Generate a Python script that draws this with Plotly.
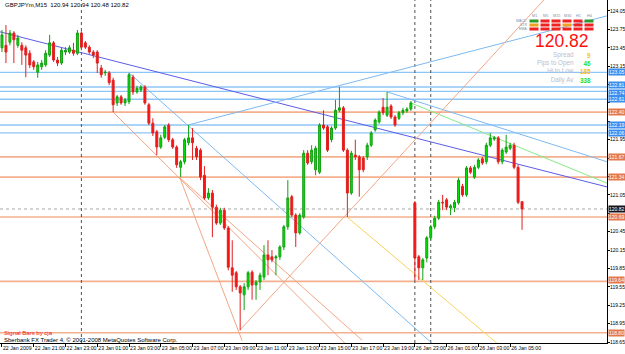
import plotly.graph_objects as go

# ---------------- data (GBPJPYm, M15) ----------------
opens = [123.45,123.49,123.54,123.69,123.49,123.49,123.45,123.36,123.22,123.05,
         123.14,123.17,123.33,123.53,123.25,123.20,123.38,123.38,123.41,123.36,
         123.69,123.53,123.46,123.38,123.38,123.12,123.04,123.04,122.92,122.55,
         122.65,122.55,122.57,122.97,122.73,122.76,122.81,122.52,122.22,122.08,
         121.83,121.99,122.19,121.95,121.83,121.50,121.59,121.90,121.98,121.81,
         121.78,121.37,121.00,121.08,120.85,120.59,120.80,120.51,119.86,119.78,
         119.55,119.42,119.55,119.79,119.58,119.63,119.71,120.07,120.04,120.02,
         120.04,120.20,120.53,121.02,120.72,120.43,120.69,121.73,121.59,121.46,
         121.42,122.19,122.16,121.95,122.14,122.43,122.47,121.78,121.08,121.70,
         121.67,121.65,121.67,121.86,122.11,122.24,122.48,122.35,122.50,122.32,
         122.30,122.39,122.42,122.45,120.92,120.04,119.86,120.02,120.35,120.53,
         120.67,120.93,120.97,120.84,120.84,120.92,121.19,121.05,121.49,121.34,
         121.50,121.64,121.59,121.86,121.96,121.98,121.59,121.75,121.81,121.86,
         121.50,120.94]
highs = [123.74,123.82,123.74,123.72,123.66,123.54,123.49,123.41,123.25,123.22,
         123.25,123.41,123.66,123.56,123.30,123.45,123.46,123.49,123.53,123.74,
         123.72,123.56,123.49,123.41,123.41,123.17,123.09,123.07,122.96,122.68,
         122.68,122.63,123.04,123.01,122.83,122.84,122.84,122.55,122.30,122.11,
         122.03,122.19,122.22,121.98,121.86,121.62,121.98,122.19,122.14,121.85,
         121.81,121.52,121.16,121.13,120.89,120.84,120.84,120.54,120.31,119.81,
         119.58,119.61,119.81,119.82,119.66,119.78,120.23,120.31,120.15,120.07,
         120.23,120.56,121.29,121.05,120.75,120.75,121.78,121.78,121.86,121.85,
         122.22,122.43,122.19,122.17,122.60,122.81,122.50,121.81,121.77,121.95,
         121.70,121.68,121.90,122.09,122.30,122.43,122.63,122.73,122.53,122.35,
         122.42,122.47,122.48,122.58,120.95,120.07,120.02,120.38,120.56,120.71,
         120.97,121.05,121.00,120.90,120.97,121.33,121.23,121.52,121.52,121.54,
         121.65,121.67,121.90,122.06,122.01,122.01,121.81,122.03,121.90,121.90,
         121.54,120.94]
lows = [123.38,123.20,123.49,123.20,123.45,123.17,122.97,123.12,123.09,122.96,
        123.09,123.14,123.30,123.22,123.15,123.17,123.33,123.35,123.32,123.33,
        123.41,123.43,123.35,123.28,123.04,122.96,122.99,122.84,122.40,122.50,
        122.52,122.50,122.53,122.68,122.70,122.73,122.52,122.19,122.01,121.70,
        121.80,121.96,121.91,121.80,121.49,121.34,121.55,121.86,121.62,121.62,
        121.29,120.97,120.97,120.36,120.56,120.56,120.48,119.82,119.47,119.50,
        118.84,119.17,119.50,119.34,119.34,119.50,119.66,119.74,119.95,119.74,
        119.99,120.15,120.48,120.69,120.20,120.40,120.66,121.54,121.55,121.37,
        121.39,122.11,121.75,121.91,122.11,122.40,121.75,120.69,121.05,121.62,
        121.02,121.42,121.62,121.83,122.08,122.21,122.35,122.32,122.29,122.16,
        122.27,122.35,122.39,122.42,119.66,119.66,119.66,119.95,120.31,120.49,
        120.64,120.80,120.80,120.72,120.77,120.89,121.02,121.02,121.39,121.31,
        121.47,121.54,121.55,121.83,121.93,121.55,121.55,121.72,121.78,121.47,
        120.90,120.48]
closes = [123.66,123.38,123.69,123.58,123.61,123.41,123.33,123.17,123.14,123.17,
          123.20,123.36,123.53,123.25,123.20,123.41,123.41,123.45,123.36,123.69,
          123.46,123.46,123.38,123.33,123.20,123.01,123.05,122.88,122.52,122.65,
          122.55,122.60,123.01,122.73,122.79,122.81,122.55,122.22,122.06,121.83,
          121.98,122.16,121.95,121.83,121.54,121.59,121.95,121.98,121.90,121.67,
          121.34,121.00,121.08,120.85,120.59,120.80,120.51,119.87,119.74,119.55,
          119.45,119.55,119.78,119.58,119.63,119.74,120.07,119.99,119.99,120.04,
          120.20,120.53,121.00,120.72,120.43,120.72,121.73,121.57,121.78,121.81,
          122.19,122.14,121.78,122.14,122.43,122.47,121.78,121.08,121.73,121.67,
          121.46,121.46,121.86,122.06,122.27,122.40,122.39,122.48,122.32,122.19,
          122.39,122.43,122.45,122.55,120.02,119.86,119.99,120.35,120.53,120.67,
          120.93,120.92,120.85,120.87,120.93,121.29,121.05,121.49,121.42,121.50,
          121.62,121.57,121.86,121.98,121.98,121.59,121.78,121.83,121.86,121.50,
          120.93,120.82]

x_tick_bars = [0, 8, 16, 24, 32, 40, 48, 56, 64, 72, 80, 88, 96, 104, 112, 120, 128]
x_tick_text = ["22 Jan 2009", "22 Jan 21:00", "22 Jan 23:00", "23 Jan 01:00", "23 Jan 03:00",
               "23 Jan 05:00", "23 Jan 07:00", "23 Jan 09:00", "23 Jan 11:00", "23 Jan 13:00",
               "23 Jan 15:00", "23 Jan 17:00", "23 Jan 19:00", "26 Jan 23:00", "26 Jan 01:00",
               "26 Jan 03:00", "26 Jan 05:00"]
y_tick_vals = [118.65, 118.95, 119.25, 119.55, 119.85, 120.15, 120.45, 120.75, 121.05, 121.35,
               121.65, 121.95, 122.25, 122.55, 122.85, 123.15, 123.45, 123.75, 124.05]
# tick labels hidden behind the price boxes on the reference
y_tick_hidden = [120.75, 121.35, 121.65, 122.25, 122.55, 122.85]
day_separators = [20, 104, 108]

blue_levels = [123.05, 122.81, 122.74, 122.61, 122.19, 122.06]
orange_levels = [122.40, 121.67, 121.34, 120.69, 119.64, 118.80]
bid_price = 120.82

# trend lines: (bar0, price0, bar1, price1, colour)
trend_lines = [
    (-0.5, 123.71, 152.4, 121.18, "#5c5ce8"),
    (46.85, 122.19, 152.4, 123.97, "#7db9f2"),
    (32.0, 123.04, 108.3, 118.63, "#7db9f2"),
    (97.0, 122.73, 152.4, 121.59, "#7db9f2"),
    (103.0, 122.55, 152.4, 121.24, "#88ea88"),
    (86.9, 120.69, 124.7, 118.63, "#f6d45a"),
    (28.0, 122.40, 86.4, 118.63, "#f2a684"),
    (44.8, 121.33, 90.7, 118.68, "#f2a684"),
    (44.8, 121.33, 60.5, 118.67, "#f2a684"),
    (60.0, 118.85, 136.5, 124.23, "#f2a684"),
]

title_text = "GBPJPYm,M15  120.94 120.94 120.48 120.82"
panel_price = "120.82"
panel_labels = ["Spread", "Pips to Open", "Hi to Low", "Daily Av"]
panel_values = ["9", "46", "185", "338"]
panel_value_colors = ["#f2c40c", "#1ee01e", "#f2c40c", "#1ee01e"]
tf_cols = ["M1", "M5", "M15", "M30", "H1", "H4"]
sig_rows = ["MACD", "STR", "EMA"]
sig_colors = [["#2a9a2a", "#ee2222", "#ee2222", "#ee2222", "#ee2222", "#2a9a2a"],
              ["#f0a020", "#ee2222", "#ee2222", "#f0a020", "#ee2222", "#ee2222"],
              ["#ee2222", "#ee2222", "#ee2222", "#ee2222", "#ee2222", "#ee2222"]]

# ---------------- figure ----------------
W, H = 625, 354
ML, MR, MT, MB = 0, 18, 0, 11
PW, PH = W - ML - MR, H - MT - MB
X_RANGE = [-0.5, 152.4]
Y_RANGE = [118.634, 124.229]

def px(x):
    return x / PW

def py(y):
    return 1 - y / PH

n = len(opens)
fig = go.Figure()
fig.add_trace(go.Candlestick(
    x=list(range(n)), open=opens, high=highs, low=lows, close=closes,
    increasing=dict(line=dict(color="#10a010", width=1), fillcolor="#00e400"),
    decreasing=dict(line=dict(color="#e02020", width=1), fillcolor="#ff1010"),
    whiskerwidth=0, showlegend=False, hoverinfo="skip"))

shapes = []
for lv in blue_levels:
    shapes.append(dict(type="line", xref="paper", x0=0, x1=1, yref="y", y0=lv, y1=lv,
                       line=dict(color="#8cc6f6", width=1.3), layer="below"))
for lv in orange_levels:
    shapes.append(dict(type="line", xref="paper", x0=0, x1=1, yref="y", y0=lv, y1=lv,
                       line=dict(color="#f4b08e", width=1.6), layer="below"))
shapes.append(dict(type="line", xref="paper", x0=0, x1=1, yref="y", y0=bid_price, y1=bid_price,
                   line=dict(color="#a8a8a8", width=1, dash="dot"), layer="below"))
for b in day_separators:
    shapes.append(dict(type="line", xref="x", x0=b, x1=b, yref="paper", y0=0, y1=1,
                       line=dict(color="#505050", width=1, dash="dot"), layer="below"))
for (b0, p0, b1, p1, col) in trend_lines:
    shapes.append(dict(type="line", xref="x", yref="y", x0=b0, y0=p0, x1=b1, y1=p1,
                       line=dict(color=col, width=1), layer="below"))

# signal grid boxes
col_x = [534, 545, 556, 567, 578, 589]
row_y = [21, 25, 29]
for r, yy in enumerate(row_y):
    for c, xx in enumerate(col_x):
        shapes.append(dict(type="rect", xref="paper", yref="paper",
                           x0=px(xx - 4.5), x1=px(xx + 4.5), y0=py(yy + 1.5), y1=py(yy - 1.5),
                           fillcolor=sig_colors[r][c], line=dict(width=0)))

ann = []
FONT = "Liberation Sans, Arial, sans-serif"
BOX_FONT = dict(size=5, color="white", family=FONT)
# right price boxes (close boxes nudged apart a little)
box_shift = {122.81: 1.5, 122.74: -1.5, 119.64: 1}
for lv in blue_levels:
    ann.append(dict(xref="paper", x=1, xanchor="left", xshift=1, yref="y", y=lv, text=f"{lv:.2f}",
                    yshift=box_shift.get(lv, 0), showarrow=False, font=BOX_FONT,
                    bgcolor="#3a8ef0", borderpad=0))
for lv in orange_levels:
    ann.append(dict(xref="paper", x=1, xanchor="left", xshift=1, yref="y", y=lv, text=f"{lv:.2f}",
                    yshift=box_shift.get(lv, 0), showarrow=False, font=BOX_FONT,
                    bgcolor="#e4774c", borderpad=0))
ann.append(dict(xref="paper", x=1, xanchor="left", xshift=1, yref="y", y=bid_price,
                text=f"{bid_price:.2f}", showarrow=False, font=BOX_FONT,
                bgcolor="#151520", borderpad=0))

ann.append(dict(xref="paper", yref="paper", x=px(3), y=py(5), xanchor="left", yanchor="middle",
                text=title_text, showarrow=False, font=dict(size=6, color="black", family=FONT)))
ann.append(dict(xref="paper", yref="paper", x=px(2), y=py(333), xanchor="left", yanchor="middle",
                text="Signal Bars by cja", showarrow=False, font=dict(size=6, color="#ee2020", family=FONT)))
ann.append(dict(xref="paper", yref="paper", x=px(2), y=py(339.5), xanchor="left", yanchor="middle",
                text="Sberbank FX Trader 4, © 2001-2008 MetaQuotes Software Corp.", showarrow=False,
                font=dict(size=6, color="black", family=FONT)))

# info panel
for c, t in enumerate(tf_cols):
    ann.append(dict(xref="paper", yref="paper", x=px(col_x[c]), y=py(16.5), xanchor="center",
                    yanchor="middle", text=t, showarrow=False,
                    font=dict(size=3.8, color="#8090a8", family=FONT)))
for r, t in enumerate(sig_rows):
    ann.append(dict(xref="paper", yref="paper", x=px(528.5), y=py(row_y[r]), xanchor="right",
                    yanchor="middle", text=t, showarrow=False,
                    font=dict(size=3.5, color="#8090a8", family=FONT)))
ann.append(dict(xref="paper", yref="paper", x=px(562), y=py(41), xanchor="center", yanchor="middle",
                text=panel_price, showarrow=False, font=dict(size=17.5, color="#ff1010", family=FONT)))
ann.append(dict(xref="paper", yref="paper", x=px(576), y=py(67.5), xanchor="right", yanchor="middle",
                align="right", text="<br>".join(panel_labels), showarrow=False,
                font=dict(size=6.3, color="#b8c0d0", family=FONT)))
ann.append(dict(xref="paper", yref="paper", x=px(593), y=py(67.5), xanchor="right", yanchor="middle",
                align="right", showarrow=False, font=dict(size=6.3, color="#1ee01e", family=FONT),
                text="<br>".join(f"<b><span style='color:{c}'>{v}</span></b>"
                                 for v, c in zip(panel_values, panel_value_colors))))

fig.update_layout(
    width=W, height=H, margin=dict(l=ML, r=MR, t=MT, b=MB, pad=0, autoexpand=False),
    paper_bgcolor="white", plot_bgcolor="white",
    shapes=shapes, annotations=ann, showlegend=False,
    xaxis=dict(range=X_RANGE, rangeslider=dict(visible=False), showgrid=False, zeroline=False,
               showline=True, linecolor="black", linewidth=1, ticks="outside", ticklen=3,
               tickcolor="black", tickvals=x_tick_bars, ticktext=x_tick_text, tickangle=0,
               automargin=False, ticklabelposition="outside right",
               tickfont=dict(size=5.2, color="black", family=FONT)),
    yaxis=dict(range=Y_RANGE, side="right", showgrid=False, zeroline=False, showline=True,
               linecolor="black", linewidth=1, ticks="outside", ticklen=2, tickcolor="black",
               automargin=False, tickvals=y_tick_vals, ticklabelstandoff=-1,
               ticktext=["" if v in y_tick_hidden else f"{v:.2f}" for v in y_tick_vals],
               tickfont=dict(size=5, color="black", family=FONT)),
)

fig.write_html("out.html")
